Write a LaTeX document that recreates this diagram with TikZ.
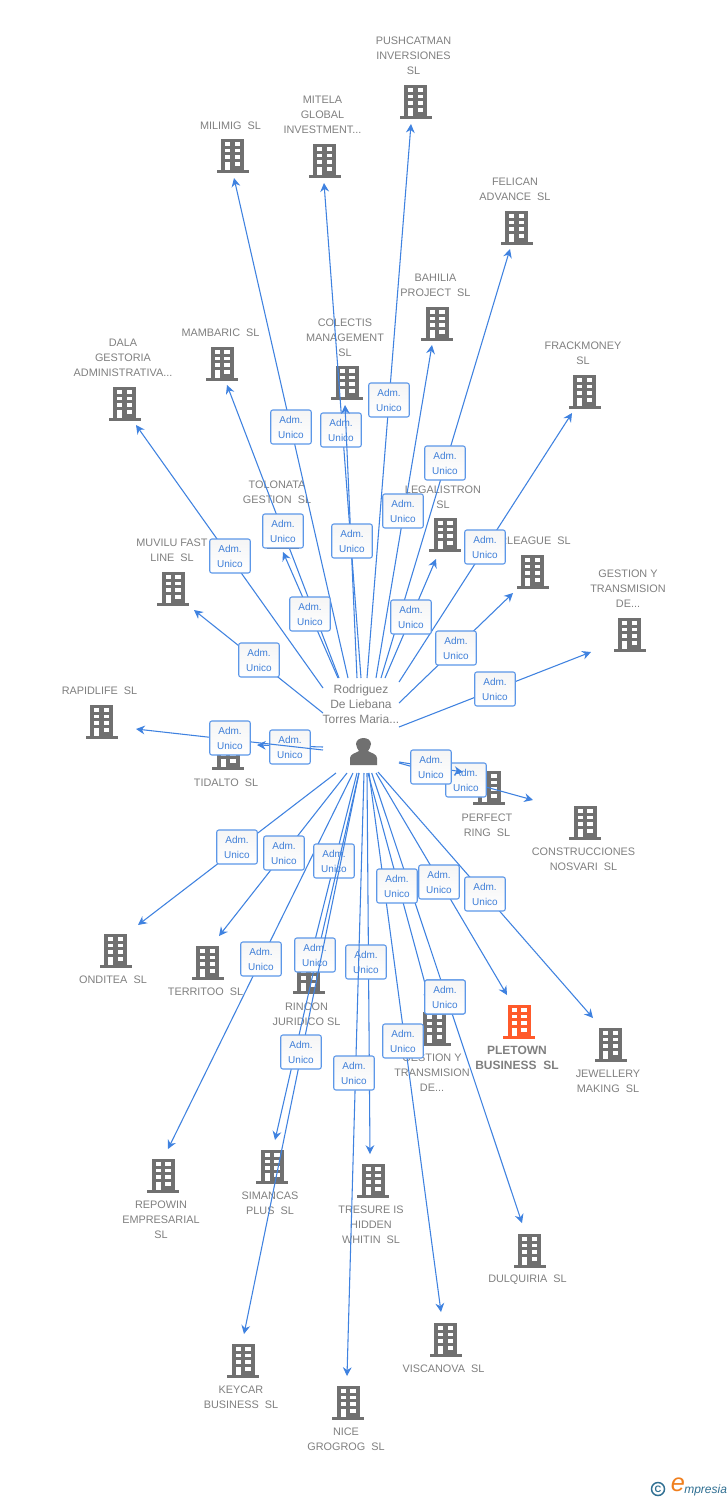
\documentclass[tikz,border=0pt]{standalone}
\usepackage{fontspec}
\setmainfont{Liberation Sans}
\usetikzlibrary{arrows.meta,shadings}
\definecolor{lnk}{HTML}{3F82E0}
\definecolor{boxb}{HTML}{5C97E8}
\definecolor{boxt}{HTML}{3F7FD8}
\definecolor{gtxt}{HTML}{808080}
\definecolor{bld}{HTML}{707070}
\definecolor{org}{HTML}{FF5A2B}
\definecolor{logob}{HTML}{2F6F92}
\definecolor{logoo}{HTML}{F07F1E}
\definecolor{boxtop}{HTML}{F5F5F5}
\tikzset{
  x=0.75pt,y=-0.75pt,
  lab/.style={text=gtxt,font=\fontsize{8.15pt}{11.25pt}\selectfont,align=center,inner sep=0pt,anchor=center},
  labb/.style={text=gtxt,font=\bfseries\fontsize{9pt}{11.25pt}\selectfont,align=center,inner sep=0pt,anchor=center},
  adm/.style={draw=boxb,line width=0.8pt,rounded corners=1.6pt,top color=boxtop,bottom color=white,
    minimum width=30.4pt,minimum height=25.5pt,inner sep=0pt,text=boxt,align=center,
    font=\fontsize{7.5pt}{11.25pt}\selectfont},
  edge/.style={draw=lnk,line width=0.8pt,-{Stealth[length=6.6pt,width=6.6pt,inset=2.2pt]}},
}
% \bldg{name}{x}{y}{colour}
\newcommand{\bldg}[4]{%
  \begin{scope}[shift={(#2,#3)}]
    \fill[#4] (-11.5,-16) rectangle (11.5,16);
    \fill[#4] (-16,15) rectangle (16,18);
    \foreach \wy in {-13,-6.5,0} {
      \fill[white] (-7.5,\wy) rectangle (-2.5,\wy+3.6);
      \fill[white] (2,\wy) rectangle (7.5,\wy+3.6);
    }
    \fill[white] (-7.5,6.5) rectangle (-2.5,15);
    \fill[white] (2,6.5) rectangle (7.5,10.5);
  \end{scope}
  \coordinate (#1) at (#2,#3);}
% \conn{name}{start}{tip}{box}
\newcommand{\conn}[4]{%
  \coordinate (#1s) at (#2);
  \coordinate (#1t) at (#3);
  \draw[edge] (#1s) -- (#1t);
  \node[adm] (#1b) at (#4) {Adm.\\Unico};}
\begin{document}
\begin{tikzpicture}
\useasboundingbox (0,0) rectangle (728,1500);
\fill[white] (0,0) rectangle (728,1500);
% buildings
\bldg{bA}{415.5}{101}{bld}
\bldg{bB}{324.5}{160}{bld}
\bldg{bC}{232.5}{155}{bld}
\bldg{bD}{516.5}{227}{bld}
\bldg{bE}{437}{323}{bld}
\bldg{bF}{347}{382}{bld}
\bldg{bG}{222}{363}{bld}
\bldg{bH}{584.5}{391}{bld}
\bldg{bI}{124.5}{403}{bld}
\bldg{bJ}{283}{531}{bld}
\bldg{bK}{445}{534}{bld}
\bldg{bL}{532.5}{571}{bld}
\bldg{bM}{629.5}{634}{bld}
\bldg{bN}{173}{588}{bld}
\bldg{bO}{101.5}{721}{bld}
\bldg{bP}{228}{752}{bld}
\bldg{bQ}{489}{787}{bld}
\bldg{bR}{585}{822}{bld}
\bldg{bS}{115.5}{950}{bld}
\bldg{bT}{207.5}{962}{bld}
\bldg{bU}{308.5}{976}{bld}
\bldg{bV}{519}{1021}{org}
\bldg{bW}{434.5}{1028}{bld}
\bldg{bX}{610.5}{1044}{bld}
\bldg{bY}{163}{1175}{bld}
\bldg{bZ}{272}{1166}{bld}
\bldg{bAA}{373}{1180}{bld}
\bldg{bAB}{529.5}{1250}{bld}
\bldg{bAC}{445.5}{1339}{bld}
\bldg{bAD}{243}{1360}{bld}
\bldg{bAE}{348}{1402}{bld}
% labels
\node[lab] (lA) at (413.5,56) {PUSHCATMAN\\INVERSIONES\\SL};
\node[lab] (lB) at (322.5,115) {MITELA\\GLOBAL\\INVESTMENT...};
\node[lab] (lC) at (230.5,126) {MILIMIG\ \ SL};
\node[lab] (lD) at (515,189.5) {FELICAN\\ADVANCE\ \ SL};
\node[lab] (lE) at (435.5,285.5) {BAHILIA\\PROJECT\ \ SL};
\node[lab] (lF) at (345,338) {COLECTIS\\MANAGEMENT\\SL};
\node[lab] (lG) at (220.5,333) {MAMBARIC\ \ SL};
\node[lab] (lH) at (583,353.5) {FRACKMONEY\\SL};
\node[lab] (lI) at (123,358) {DALA\\GESTORIA\\ADMINISTRATIVA...};
\node[lab] (lJ) at (277,492.5) {TOLONATA\\GESTION\ \ SL};
\node[lab] (lK) at (443,497.5) {LEGALISTRON\\SL};
\node[lab] (lL) at (535,541) {RLEAGUE\ \ SL};
\node[lab] (lM) at (628,589) {GESTION Y\\TRANSMISION\\DE...};
\node[lab] (lN) at (172,550.5) {MUVILU FAST\\LINE\ \ SL};
\node[lab] (lO) at (99.5,691) {RAPIDLIFE\ \ SL};
\node[lab] (lP) at (226,783) {TIDALTO\ \ SL};
\node[lab] (lQ) at (487,825.5) {PERFECT\\RING\ \ SL};
\node[lab] (lR) at (583.5,859.5) {CONSTRUCCIONES\\NOSVARI\ \ SL};
\node[lab] (lS) at (113,980) {ONDITEA\ \ SL};
\node[lab] (lT) at (205.5,992) {TERRITOO\ \ SL};
\node[lab] (lU) at (306.5,1014.5) {RINCON\\JURIDICO SL};
\node[labb] (lV) at (517,1058) {PLETOWN\\BUSINESS\ \ SL};
\node[lab] (lW) at (432,1073) {GESTION Y\\TRANSMISION\\DE...};
\node[lab] (lX) at (608,1081.5) {JEWELLERY\\MAKING\ \ SL};
\node[lab] (lY) at (161,1220) {REPOWIN\\EMPRESARIAL\\SL};
\node[lab] (lZ) at (270,1203.5) {SIMANCAS\\PLUS\ \ SL};
\node[lab] (lAA) at (371,1225) {TRESURE IS\\HIDDEN\\WHITIN\ \ SL};
\node[lab] (lAB) at (527.5,1280) {DULQUIRIA\ \ SL};
\node[lab] (lAC) at (443.5,1369) {VISCANOVA\ \ SL};
\node[lab] (lAD) at (241,1397.5) {KEYCAR\\BUSINESS\ \ SL};
\node[lab] (lAE) at (346,1439.5) {NICE\\GROGROG\ \ SL};
% person
\node[text=gtxt,font=\fontsize{9pt}{11.25pt}\selectfont,align=center,inner sep=0pt] (root) at (361,704.5) {Rodriguez\\De Liebana\\Torres Maria...};
\coordinate (rootp) at (364,752);
\fill[bld] (350,765) -- (350,758) .. controls (350,754) and (356,753) .. (359,751) .. controls (358,749) and (356,747) .. (356,744) .. controls (356,740) and (360,738) .. (363.5,738) .. controls (367,738) and (371,740) .. (371,744) .. controls (371,747) and (369,749) .. (368,751) .. controls (371,753) and (377,754) .. (377,758) -- (377,765) -- cycle;
% connectors, bottom of the stack first
\conn{c1}{367,678}{411,124}{389,400}
\conn{c2}{361,678}{324,183}{341,430}
\conn{c3}{348,678}{234,178}{291,427}
\conn{c6}{357,678}{345,405}{352,541}
\conn{c4}{381,678}{510,249}{445,463}
\conn{c5}{376,678}{432,345}{403,511}
\conn{c7}{339,678}{227,385}{283,531}
\conn{c8}{338,678}{283,552}{310,614}
\conn{c9}{323,688}{136,425}{230,556}
\conn{c10}{323,713}{194,610}{259,660}
\conn{c11}{399,682}{572,413}{485,547}
\conn{c12}{399,703}{513,593}{456,648}
\conn{c13}{399,727}{591,652}{495,689}
\conn{c14}{385,678}{436,559}{411,617}
\conn{c15}{323,747}{257,745}{290,747}
\conn{c16}{323,750}{136,729}{230,738}
\conn{c17}{399,763}{533,800}{466,780}
\conn{c18}{399,762}{463,772}{431,767}
\conn{c19}{336,773}{138,925}{237,847}
\conn{c20}{347,773}{219,936}{284,853}
\conn{c21}{353,773}{168,1149}{261,959}
\conn{c22}{357,773}{313,948}{334,861}
\conn{c23}{359,773}{275,1140}{315,955}
\conn{c24}{359,773}{244,1334}{301,1052}
\conn{c25}{367,773}{370,1154}{366,962}
\conn{c26}{364,773}{347,1376}{354,1073}
\conn{c27}{369,773}{441,1312}{403,1041}
\conn{c29}{371.7,773}{522,1223}{445,997}
\conn{c28}{368,773}{430,1002}{397,886}
\conn{c30}{376,773}{507,995}{439,882}
\conn{c31}{378,772}{593,1018}{485,894}
\node[adm] (c29bb) at (445,997) {Adm.\\Unico};
% logo
\draw[logob,line width=1.1pt] (658,1489) circle (6.5);
\node[text=logob,font=\fontsize{7pt}{8pt}\selectfont\bfseries,inner sep=0pt] (logoc) at (658,1489) {C};
\node[text=logoo,font=\fontsize{19pt}{19pt}\selectfont\itshape,inner sep=0pt] (logoe) at (678,1485) {e};
\node[text=logob,font=\fontsize{9pt}{10pt}\selectfont\itshape,inner sep=0pt,anchor=west] (logot) at (684,1490) {mpresia};
\end{tikzpicture}
\end{document}
